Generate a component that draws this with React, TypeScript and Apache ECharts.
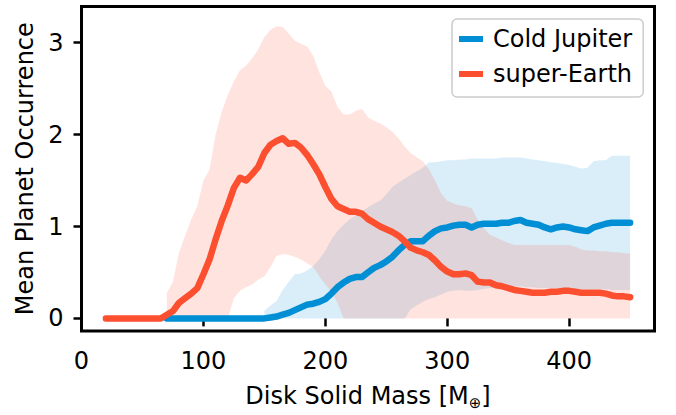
import React, { useEffect, useRef } from "react";
import * as echarts from "echarts";

// Disk solid mass grid (Earth masses)
const mass = [
  20, 25, 30, 35, 40, 45, 50, 55, 60, 65, 70, 75, 80, 85, 90, 95, 100, 105, 110, 115,
  120, 125, 130, 135, 140, 145, 150, 155, 160, 165, 170, 175, 180, 185, 190, 195, 200, 205, 210, 215,
  220, 225, 230, 235, 240, 245, 250, 255, 260, 265, 270, 275, 280, 285, 290, 295, 300, 305, 310, 315,
  320, 325, 330, 335, 340, 345, 350, 355, 360, 365, 370, 375, 380, 385, 390, 395, 400, 405, 410, 415,
  420, 425, 430, 435, 440, 445, 450,
];

const N = null;

// Cold Jupiter mean occurrence
const cjMean = [
  N, N, N, N, N, N, N, N, N, N, 0, 0, 0, 0, 0, 0, 0, 0, 0, 0,
  0, 0, 0, 0, 0, 0, 0, 0.01, 0.02, 0.04, 0.06, 0.09, 0.12, 0.15, 0.16, 0.18, 0.21, 0.27, 0.34, 0.39,
  0.43, 0.45, 0.45, 0.5, 0.55, 0.58, 0.62, 0.67, 0.74, 0.8, 0.84, 0.84, 0.84, 0.9, 0.95, 0.98, 0.99, 1.01, 1.02, 1.02,
  0.99, 1.02, 1.03, 1.03, 1.03, 1.04, 1.04, 1.06, 1.07, 1.04, 1.03, 1.02, 0.99, 0.97, 0.99, 1.0, 0.99, 0.97, 0.96, 0.95,
  0.99, 1.01, 1.03, 1.04, 1.04, 1.04, 1.04,
];

// super-Earth mean occurrence
const seMean = [
  0, 0, 0, 0, 0, 0, 0, 0, 0, 0, 0.04, 0.08, 0.17, 0.22, 0.27, 0.33, 0.48, 0.64, 0.86, 1.06,
  1.23, 1.42, 1.53, 1.5, 1.57, 1.65, 1.8, 1.89, 1.93, 1.96, 1.9, 1.91, 1.86, 1.78, 1.68, 1.57, 1.43, 1.3, 1.22, 1.19,
  1.16, 1.16, 1.14, 1.08, 1.04, 1.0, 0.97, 0.94, 0.9, 0.84, 0.77, 0.74, 0.72, 0.69, 0.63, 0.56, 0.51, 0.48, 0.48, 0.49,
  0.47, 0.4, 0.39, 0.39, 0.36, 0.35, 0.33, 0.31, 0.3, 0.29, 0.28, 0.28, 0.28, 0.29, 0.29, 0.3, 0.3, 0.29, 0.28, 0.28,
  0.28, 0.28, 0.27, 0.25, 0.24, 0.24, 0.23,
];

// Cold Jupiter spread (lower / upper)
const cjLow = [
  N, N, N, N, N, N, N, N, N, N, N, N, N, N, N, N, N, N, N, N,
  N, N, N, N, N, N, 0, 0, 0, 0, 0, 0, 0, 0, 0, 0, 0, 0, 0, 0,
  0, 0, 0, 0, 0, 0, 0, 0, 0, 0, 0.1, 0.14, 0.18, 0.21, 0.23, 0.26, 0.29, 0.3, 0.31, 0.3,
  0.3, 0.31, 0.32, 0.33, 0.33, 0.34, 0.34, 0.35, 0.35, 0.34, 0.34, 0.33, 0.33, 0.33, 0.33, 0.33, 0.33, 0.32, 0.32, 0.32,
  0.32, 0.32, 0.32, 0.31, 0.31, 0.31, 0.31,
];
const cjHigh = [
  N, N, N, N, N, N, N, N, N, N, N, N, N, N, N, N, N, N, N, N,
  N, N, N, N, N, N, 0.08, 0.14, 0.19, 0.31, 0.4, 0.48, 0.49, 0.52, 0.57, 0.64, 0.74, 0.86, 0.95, 1.02,
  1.08, 1.12, 1.17, 1.21, 1.25, 1.28, 1.35, 1.43, 1.48, 1.52, 1.56, 1.6, 1.64, 1.7, 1.7, 1.71, 1.72, 1.72, 1.73, 1.73,
  1.74, 1.74, 1.74, 1.74, 1.74, 1.75, 1.75, 1.75, 1.75, 1.74, 1.73, 1.72, 1.71, 1.7, 1.69, 1.68, 1.67, 1.65, 1.63, 1.64,
  1.71, 1.72, 1.72, 1.77, 1.77, 1.77, 1.77,
];

// super-Earth spread (lower / upper)
const seLow = [
  N, N, N, N, N, N, N, N, N, N, 0, 0, 0, 0, 0, 0, 0, 0, 0, 0,
  0, 0.22, 0.3, 0.34, 0.37, 0.42, 0.46, 0.56, 0.68, 0.7, 0.69, 0.67, 0.64, 0.6, 0.56, 0.46, 0.37, 0.29, 0.17, 0,
  0, 0, 0, 0, 0, 0, 0, 0, 0, 0, 0, 0, 0, 0, 0, 0, 0, 0, 0, 0,
  0, 0, 0, 0, 0, 0, 0, 0, 0, 0, 0, 0, 0, 0, 0, 0, 0, 0, 0, 0,
  0, 0, 0, 0, 0, 0, 0,
];
const seHigh = [
  N, N, N, N, N, N, N, N, N, N, 0.28, 0.4, 0.72, 0.9, 1.08, 1.22, 1.5, 1.62, 2.0, 2.25,
  2.43, 2.58, 2.7, 2.75, 2.83, 2.93, 3.06, 3.14, 3.18, 3.17, 3.1, 3.02, 2.99, 2.96, 2.86, 2.68, 2.53, 2.47, 2.3, 2.22,
  2.22, 2.26, 2.28, 2.19, 2.15, 2.12, 2.08, 2.03, 1.96, 1.87, 1.8, 1.75, 1.71, 1.62, 1.5, 1.36, 1.28, 1.25, 1.23, 1.22,
  1.2, 1.07, 0.98, 0.91, 0.88, 0.85, 0.82, 0.8, 0.8, 0.8, 0.8, 0.8, 0.8, 0.8, 0.8, 0.8, 0.8, 0.78, 0.75, 0.74,
  0.74, 0.73, 0.73, 0.72, 0.72, 0.71, 0.71,
];

const xTicks = [0, 100, 200, 300, 400];
const yTicks = [0, 1, 2, 3];

const BLUE = "#008fd5";
const RED = "#fc4f30";
const FONT = "DejaVu Sans";

function pairs(ys: (number | null)[]) {
  const out: [number, number][] = [];
  ys.forEach((y, i) => {
    if (y !== null) out.push([mass[i], y]);
  });
  return out;
}

function band(name: string, lo: (number | null)[], hi: (number | null)[], fill: string) {
  return {
    type: "custom",
    name,
    silent: true,
    clip: true,
    z: 1,
    data: [[mass[0], 0]],
    renderItem: (_params: any, api: any) => {
      const top: number[][] = [];
      const bot: number[][] = [];
      for (let i = 0; i < mass.length; i++) {
        const h = hi[i];
        const l = lo[i];
        if (h === null || l === null) continue;
        top.push(api.coord([mass[i], h]));
        bot.unshift(api.coord([mass[i], l]));
      }
      return {
        type: "polygon",
        shape: { points: top.concat(bot) },
        style: { fill },
      };
    },
  };
}

export default function App() {
  const ref = useRef<HTMLDivElement>(null);
  useEffect(() => {
    if (!ref.current) return;
    const chart = echarts.init(ref.current, undefined, { renderer: "svg" });
    chart.setOption({
      animation: false,
      backgroundColor: "#ffffff",
      textStyle: { fontFamily: FONT },
      grid: {
        left: 81.5,
        right: 21.5,
        top: 6.5,
        bottom: 81.5,
        show: true,
        borderColor: "#000000",
        borderWidth: 3,
        backgroundColor: "transparent",
      },
      legend: {
        data: [
          { name: "Cold Jupiter", icon: "rect" },
          { name: "super-Earth", icon: "rect" },
        ],
        orient: "vertical",
        left: 452,
        top: 19,
        itemWidth: 24,
        itemHeight: 6,
        itemGap: 11,
        padding: [8, 11, 11, 7],
        borderColor: "#cccccc",
        borderWidth: 1.5,
        borderRadius: 5,
        backgroundColor: "rgba(255,255,255,0.8)",
        textStyle: {
          fontFamily: FONT,
          fontSize: 24,
          color: "#000000",
          lineHeight: 24,
          padding: [0, 0, 0, 5],
        },
      },
      xAxis: {
        type: "value",
        min: 0,
        max: 470,
        name: "{n|Disk Solid Mass [M}{s|⊕}{n|]}",
        nameLocation: "middle",
        nameGap: 51,
        nameTextStyle: {
          rich: {
            n: { fontFamily: FONT, fontSize: 24, color: "#000", lineHeight: 28 },
            s: { fontFamily: FONT, fontSize: 15, color: "#000", lineHeight: 28, verticalAlign: "bottom", padding: [6, 0, 0, 0] },
          },
        },
        splitLine: { show: false },
        axisLine: { show: false },
        axisTick: {
          show: true,
          inside: false,
          length: 8,
          lineStyle: { color: "#000", width: 2.5 },
          customValues: xTicks,
        },
        axisLabel: {
          fontFamily: FONT,
          fontSize: 24,
          color: "#000",
          margin: 18,
          customValues: xTicks,
        },
      },
      yAxis: {
        type: "value",
        min: -0.137,
        max: 3.394,
        name: "Mean Planet Occurrence",
        nameLocation: "middle",
        nameGap: 45,
        nameTextStyle: { fontFamily: FONT, fontSize: 24, color: "#000" },
        splitLine: { show: false },
        axisLine: { show: false },
        axisTick: {
          show: true,
          inside: false,
          length: 8,
          lineStyle: { color: "#000", width: 2.5 },
          customValues: yTicks,
        },
        axisLabel: {
          fontFamily: FONT,
          fontSize: 24,
          color: "#000",
          margin: 18,
          customValues: yTicks,
        },
      },
      series: [
        band("CJ band", cjLow, cjHigh, "rgba(0,143,213,0.15)"),
        band("SE band", seLow, seHigh, "rgba(252,79,48,0.16)"),
        {
          type: "line",
          name: "Cold Jupiter",
          data: pairs(cjMean),
          showSymbol: false,
          symbol: "none",
          color: BLUE,
          lineStyle: { color: BLUE, width: 6.5, join: "round", cap: "round" },
          z: 3,
        },
        {
          type: "line",
          name: "super-Earth",
          data: pairs(seMean),
          showSymbol: false,
          symbol: "none",
          color: RED,
          lineStyle: { color: RED, width: 6.5, join: "round", cap: "round" },
          z: 4,
        },
      ],
    });
    return () => chart.dispose();
  }, []);
  return (
    <div
      ref={ref}
      style={{ position: "fixed", left: 0, top: 0, width: 676, height: 415 }}
    />
  );
}
